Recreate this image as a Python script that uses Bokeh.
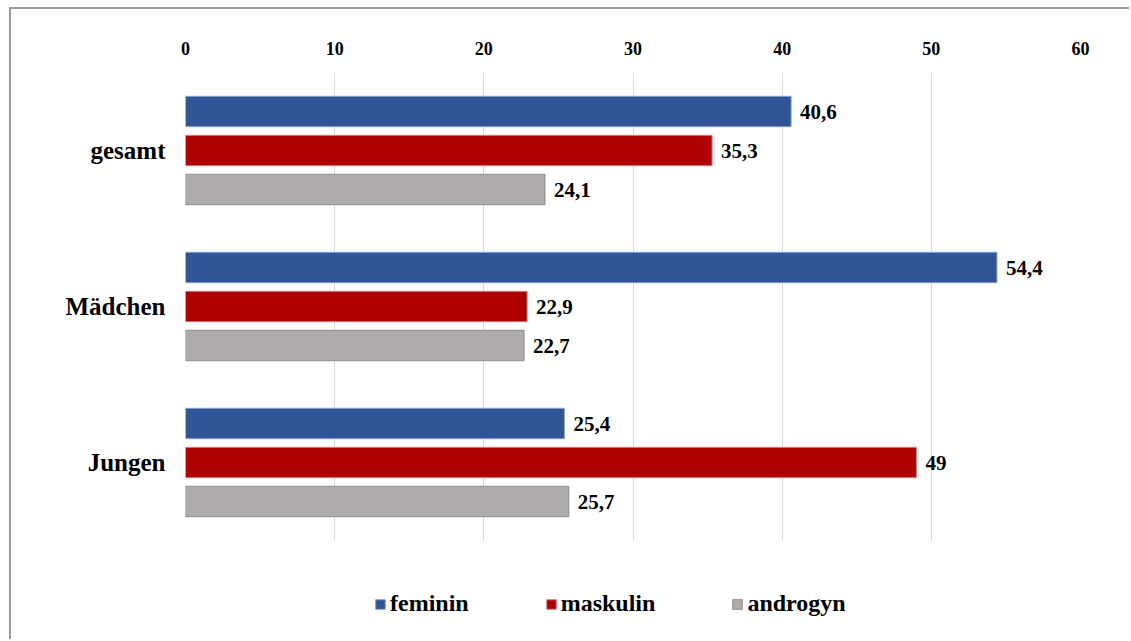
from bokeh.plotting import figure
from bokeh.models import (ColumnDataSource, Range1d, FixedTicker, Legend, LegendItem,
                          BoxAnnotation)
from bokeh.core.properties import value
from bokeh.embed import file_html
from bokeh.resources import INLINE

groups = ["gesamt", "Mädchen", "Jungen"]
series = ["feminin", "maskulin", "androgyn"]
feminin = [40.6, 54.4, 25.4]
maskulin = [35.3, 22.9, 49.0]
androgyn = [24.1, 22.7, 25.7]
colors = ["#2F5597", "#AE0000", "#AFABAB"]
edge_colors = ["#8EA2C8", "#C98A8A", "#8F8C8C"]
x_ticks = [0, 10, 20, 30, 40, 50, 60]

FONT = "Liberation Serif"

def fmt(v):
    return f"{v:g}".replace(".", ",")

# layout in "bar slots": each group takes 4 slots (3 bars + gap)
SLOTS = 4
n_groups = len(groups)
group_center = [SLOTS * i + 2 for i in range(n_groups)]
plot_bottom = SLOTS * n_groups          # end of the bar area
frame_px = 569
slot_px = 39.0
y_end = frame_px / slot_px             # frame extends below for the legend

values = {"feminin": feminin, "maskulin": maskulin, "androgyn": androgyn}

p = figure(width=1120, height=632, y_range=Range1d(y_end, 0),
           x_range=Range1d(0, 60), x_axis_location="above",
           output_backend="svg", toolbar_location=None,
           min_border_left=174, min_border_top=63, min_border_right=51, min_border_bottom=0)
p.margin = (7, 0, 0, 9)
p.styles = {"border-left": "2px solid #9a9a9a", "border-top": "2px solid #9a9a9a"}
p.outline_line_color = None
p.background_fill_color = "white"
p.border_fill_color = "white"

items = []
for k, (s, c, ec) in enumerate(zip(series, colors, edge_colors)):
    ys = [SLOTS * i + k + 1 for i in range(n_groups)]
    src = ColumnDataSource(dict(y=ys, v=values[s], lbl=[fmt(v) for v in values[s]]))
    r = p.hbar(y="y", right="v", left=0, height=0.78, source=src,
               fill_color=c, line_color=ec, line_width=1)
    p.text(x="v", y="y", text="lbl", source=src,
           x_offset=9, text_baseline="middle", text_align="left",
           text_font=value(FONT), text_font_style="bold", text_font_size="21px",
           text_color="black")
    items.append(LegendItem(label=s, renderers=[r]))

# hide grid lines below the bar area (legend zone)
p.add_layout(BoxAnnotation(top=plot_bottom, fill_color="white", fill_alpha=1,
                           line_color=None, level="underlay"))

p.xaxis.ticker = FixedTicker(ticks=x_ticks)
p.xaxis.axis_line_color = None
p.xaxis.major_tick_line_color = None
p.xaxis.minor_tick_line_color = None
p.xaxis.major_label_text_font = FONT
p.xaxis.major_label_text_font_style = "bold"
p.xaxis.major_label_text_font_size = "18px"
p.xaxis.major_label_text_color = "black"
p.xaxis.major_label_standoff = 12

p.yaxis.ticker = FixedTicker(ticks=group_center)
p.yaxis.major_label_overrides = {gc: g for gc, g in zip(group_center, groups)}
p.yaxis.axis_line_color = None
p.yaxis.major_tick_line_color = None
p.yaxis.minor_tick_line_color = None
p.yaxis.major_tick_out = 0
p.yaxis.major_tick_in = 0
p.yaxis.major_label_text_font = FONT
p.yaxis.major_label_text_font_style = "bold"
p.yaxis.major_label_text_font_size = "25px"
p.yaxis.major_label_text_color = "black"
p.yaxis.major_label_standoff = 20

p.xgrid.grid_line_color = "#D9D9D9"
p.xgrid.grid_line_width = 1
p.ygrid.grid_line_color = None

legend = Legend(items=items, orientation="horizontal", location=(189, 24),
                label_text_font=FONT, label_text_font_style="bold", label_text_font_size="24px",
                label_text_color="black", glyph_width=12, glyph_height=12, label_standoff=4,
                spacing=76, border_line_color=None, background_fill_alpha=0,
                margin=0, padding=0)
p.add_layout(legend, "center")

open("out.html", "w").write(file_html(p, INLINE))
